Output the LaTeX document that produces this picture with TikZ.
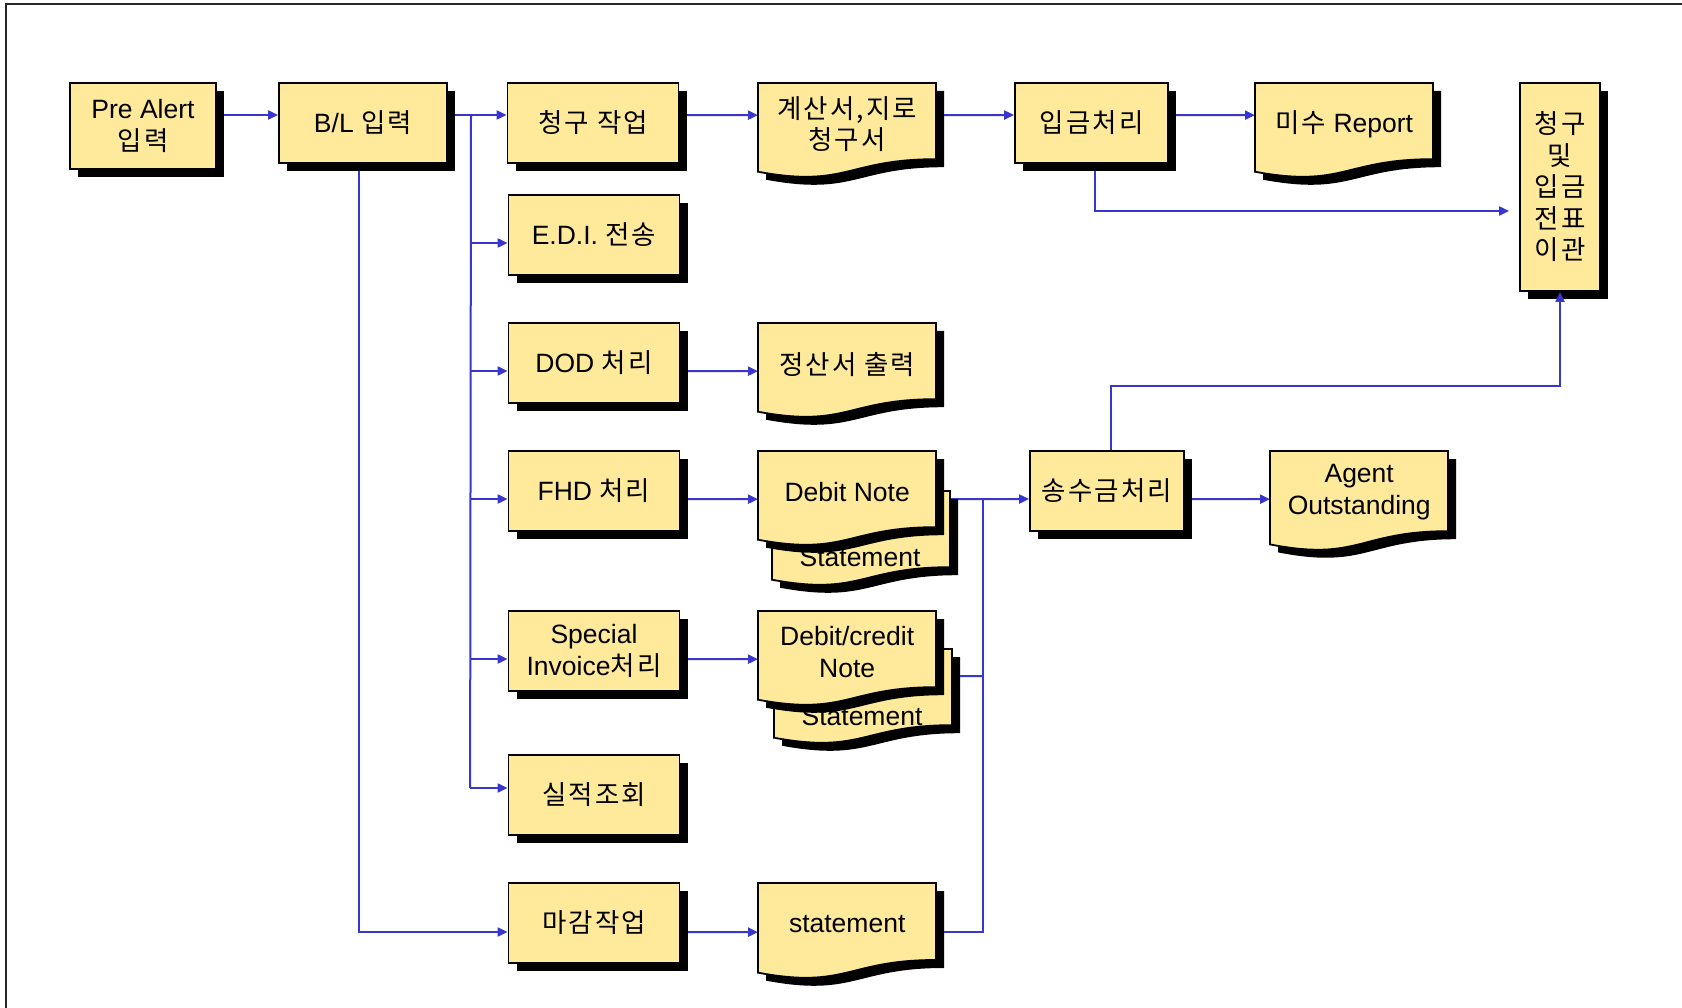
\documentclass[tikz,border=0pt]{standalone}
\usepackage{fontspec}
\setmainfont{Liberation Sans}
\newfontfamily\krfont[Scale=1.0,LetterSpace=8]{Noto Sans CJK KR}
\usetikzlibrary{shadows,arrows.meta,backgrounds}

\definecolor{boxyellow}{RGB}{255,233,154}
\definecolor{linkblue}{RGB}{55,55,205}
\newcommand{\boxfont}{\fontsize{26.5pt}{31.5pt}\selectfont}

\tikzset{
    box/.style={draw=black, line width=1.8pt, fill=boxyellow, minimum width=171pt, minimum height=80pt,
        align=center, inner sep=0pt, font=\boxfont,
        drop shadow={shadow xshift=8pt, shadow yshift=-8pt, opacity=1, fill=black}},
    krbox/.style={box, font=\boxfont\krfont},
    doctext/.style={anchor=north west, minimum width=178pt, minimum height=82pt, align=center,
        inner sep=0pt, font=\boxfont},
    link/.style={draw=linkblue, line width=2pt},
    arr/.style={link, -{Triangle[length=10pt,width=9pt]}},
    pics/docshape/.style={code={
        \fill[black] (8,8) -- (186,8) -- (186,{8+0.802*#1})
            .. controls (97,{8+0.802*#1}) and (97,{8+1.1075*#1}) .. (8,{8+0.934*#1}) -- cycle;
        \filldraw[fill=boxyellow, draw=black, line width=1.8pt] (0,0) -- (178,0) -- (178,{0.802*#1})
            .. controls (89,{0.802*#1}) and (89,{1.1075*#1}) .. (0,{0.934*#1}) -- cycle;
    }}
}

\begin{document}
\begin{tikzpicture}[x=1pt, y=-1pt]
    \useasboundingbox (0,0) rectangle (1682,1008);
    \draw[line width=2pt, black!85] (6,1008) -- (6,4) -- (1682,4);

    % boxes
    \node[box, minimum width=146pt, minimum height=86pt] (prealert) at (143,126) {Pre Alert\\{\krfont 입력}};
    \node[box, minimum width=168pt] (bl) at (363,123) {B/L {\krfont 입력}};
    \node[krbox] (chunggu) at (593,123) {청구 작업};
    \node[box] (edi) at (594,235) {E.D.I. {\krfont 전송}};
    \node[box] (dod) at (594,363) {DOD {\krfont 처리}};
    \node[box] (fhd) at (594,491) {FHD {\krfont 처리}};
    \node[box] (special) at (594,651) {Special\\Invoice{\krfont 처리}};
    \node[krbox] (silj) at (594,795) {실적조회};
    \node[krbox] (magam) at (594,923) {마감작업};
    \node[krbox, minimum width=153pt] (ipgeum) at (1091.5,123) {입금처리};
    \node[krbox, minimum width=154pt] (songsu) at (1107,491) {송수금처리};
    \node[krbox, minimum width=80pt, minimum height=208pt] (ijeon) at (1560,187) {청구\\및\\입금\\전표\\이관};

    % documents
    \pic at (758,83) {docshape=95};
    \node[doctext] (gyesan) at (758,83) {{\krfont 계산서,지로}\\{\krfont 청구서}};
    \pic at (1255,83) {docshape=95};
    \node[doctext] (misu) at (1255,83) {{\krfont 미수} Report};
    \pic at (758,323) {docshape=95};
    \node[doctext] (jeongsan) at (758,323) {{\krfont 정산서 출력}};

    \pic at (772,491) {docshape=95};
    \node[font=\boxfont] (stmta) at (860,557) {Statement};
    \pic at (758,451) {docshape=95};
    \node[doctext] (debit) at (758,451) {Debit Note};

    \pic at (774,649) {docshape=95};
    \node[font=\boxfont] (stmtb) at (862,716) {Statement};
    \pic at (758,611) {docshape=95};
    \node[doctext] (dcnote) at (758,611) {Debit/credit\\Note};

    \pic at (758,883) {docshape=96};
    \node[doctext] (stmt) at (758,883) {statement};
    \pic at (1270,451) {docshape=100};
    \node[doctext] (agent) at (1270,451) {Agent\\Outstanding};

    % connectors
    \begin{scope}[on background layer]
        \draw[arr] ([yshift=11pt]prealert.east) -- ([yshift=8pt]bl.west);
        \draw[arr] ([yshift=8pt]bl.east) -- ([yshift=8pt]chunggu.west);
        \coordinate (split) at (471,115);
        \draw[link] (split) -- ([xshift=-37.5pt,yshift=7pt]silj.west);
        \foreach \n/\s in {edi/-8, dod/-8, fhd/-8, special/-8, silj/7}
            \draw[arr] ([xshift=-37.5pt,yshift=\s pt]\n.west) -- ([yshift=\s pt]\n.west);
        \draw[arr] ([xshift=-4.5pt]bl.south) |- ([yshift=-9pt]magam.west);

        \draw[arr] ([yshift=8pt]chunggu.east) -- ([yshift=9pt]gyesan.west);
        \draw[arr] ([yshift=9pt]gyesan.east) -- ([yshift=8pt]ipgeum.west);
        \draw[arr] ([yshift=8pt]ipgeum.east) -- ([yshift=9pt]misu.west);
        \draw[arr, shorten >=10pt] ([xshift=3pt]ipgeum.south) |- ([yshift=-24pt]ijeon.west);

        \draw[arr] ([yshift=-8pt]dod.east) -- ([yshift=-7pt]jeongsan.west);
        \draw[arr] ([yshift=-8pt]fhd.east) -- ([yshift=-7pt]debit.west);
        \draw[arr] ([yshift=-8pt]special.east) -- ([yshift=-7pt]dcnote.west);
        \draw[arr] ([yshift=-9pt]magam.east) -- ([yshift=-8pt]stmt.west);

        \coordinate (bus) at (983,499);
        \draw[arr] ([yshift=-7pt]debit.east) -- ([yshift=-8pt]songsu.west);
        \draw[link] ([yshift=-24pt]dcnote.east) -- (bus |- {(0,676)});
        \draw[link] ([yshift=-8pt]stmt.east) -| (bus);
        \draw[arr] ([yshift=-8pt]songsu.east) -- ([yshift=-7pt]agent.west);
    \end{scope}
    \draw[arr] ([xshift=4pt]songsu.north) -- ++(0,-64) -| (ijeon.south);
\end{tikzpicture}
\end{document}
